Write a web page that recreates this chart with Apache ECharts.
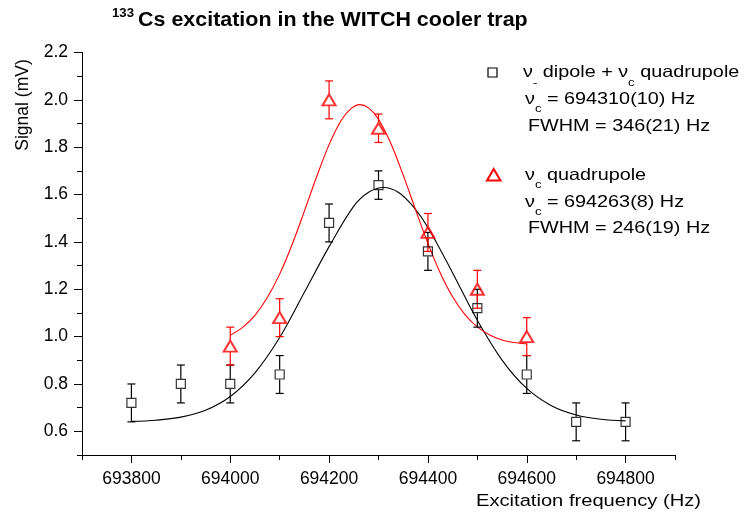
<!DOCTYPE html>
<html><head><meta charset="utf-8">
<script src="https://cdn.jsdelivr.net/npm/echarts@6/dist/echarts.min.js"></script>
<style>html,body{margin:0;padding:0;background:#fff}#c{width:744px;height:519px}</style>
</head><body><div id="c"></div>
<script>
// Measured data: nu- dipole + nu_c quadrupole (black squares)
const dipoleFreq   = [693800, 693900, 694000, 694100, 694200, 694300, 694400, 694500, 694600, 694700, 694800];
const dipoleSignal = [0.72, 0.80, 0.80, 0.84, 1.48, 1.64, 1.36, 1.12, 0.84, 0.64, 0.64];
const dipoleError  = [0.08, 0.08, 0.08, 0.08, 0.08, 0.06, 0.08, 0.08, 0.08, 0.08, 0.08];
// Measured data: nu_c quadrupole (red triangles)
const quadFreq   = [694000, 694100, 694200, 694300, 694400, 694500, 694600];
const quadSignal = [0.96, 1.08, 2.00, 1.88, 1.44, 1.20, 1.00];
const quadError  = [0.08, 0.08, 0.08, 0.06, 0.08, 0.08, 0.08];
// Fit curves
const dipoleFitFreq = [693800, 693850, 693900, 693950, 694000, 694050, 694100, 694150, 694200, 694250, 694280, 694310,
                       694340, 694370, 694400, 694450, 694500, 694550, 694600, 694650, 694700, 694750, 694800];
const dipoleFitSignal = [0.642, 0.647, 0.660, 0.689, 0.747, 0.847, 0.996, 1.187, 1.380, 1.551, 1.610, 1.630,
                         1.610, 1.550, 1.461, 1.269, 1.069, 0.901, 0.781, 0.708, 0.669, 0.651, 0.644];
const quadFitFreq = [694000, 694025, 694050, 694075, 694100, 694125, 694150, 694175, 694200, 694225, 694245, 694262, 694280,
                     694300, 694325, 694350, 694375, 694400, 694425, 694450, 694475, 694500, 694525, 694550, 694575, 694600];
const quadFitSignal = [1.006, 1.039, 1.090, 1.165, 1.264, 1.388, 1.530, 1.676, 1.811, 1.915, 1.964, 1.980, 1.966,
                       1.918, 1.816, 1.682, 1.536, 1.394, 1.269, 1.168, 1.093, 1.041, 1.007, 0.986, 0.975, 0.969];
// Ticks
const xMajorTicks = [693800, 694000, 694200, 694400, 694600, 694800];
const xMinorTicks = [693700, 693900, 694100, 694300, 694500, 694700, 694900];
const yMajorTicks = [0.6, 0.8, 1.0, 1.2, 1.4, 1.6, 1.8, 2.0, 2.2];
const yMinorTicks = [0.5, 0.7, 0.9, 1.1, 1.3, 1.5, 1.7, 1.9, 2.1];

const FONT = '"Liberation Sans", Arial, Helvetica, sans-serif';
const RED = '#ff0000';

function pairs(xs, ys) { return xs.map((x, i) => [x, ys[i]]); }

function errorBars(xs, ys, es, color, gap, z) {
  return {
    type: 'custom',
    z: z,
    data: xs.map((x, i) => [x, ys[i], es[i]]),
    encode: { x: 0, y: 1 },
    renderItem: function (params, api) {
      const x = api.value(0), y = api.value(1), e = api.value(2);
      const top = api.coord([x, y + e]);
      const mid = api.coord([x, y]);
      const bot = api.coord([x, y - e]);
      const cx = mid[0], cap = 4;
      const st = { stroke: color, lineWidth: 1.2 };
      return {
        type: 'group',
        children: [
          { type: 'line', shape: { x1: cx, y1: top[1], x2: cx, y2: mid[1] - gap }, style: st },
          { type: 'line', shape: { x1: cx, y1: mid[1] + gap, x2: cx, y2: bot[1] }, style: st },
          { type: 'line', shape: { x1: cx - cap, y1: top[1], x2: cx + cap, y2: top[1] }, style: st },
          { type: 'line', shape: { x1: cx - cap, y1: bot[1], x2: cx + cap, y2: bot[1] }, style: st }
        ]
      };
    }
  };
}

const tickLabel = { color: '#000', fontSize: 17.5, fontFamily: FONT };

const chart = echarts.init(document.getElementById('c'), null, { renderer: 'canvas' });
const legendRich = {
  s: { fontSize: 11, fontFamily: FONT, padding: [20, 0, 0, 0] }
};
function txt(x, y, text) {
  return {
    type: 'text', x: x, y: y, scaleX: 1.2, z: 100,
    style: { text: text, fill: '#000', fontSize: 16.5, fontFamily: FONT, align: 'left', verticalAlign: 'middle', rich: legendRich }
  };
}

chart.setOption({
  animation: false,
  backgroundColor: '#fff',
  grid: { left: 82, right: 69, top: 52.5, bottom: 64, containLabel: false, outerBoundsMode: 'none' },
  xAxis: [
    {
      type: 'value', min: 693700, max: 694900, position: 'bottom',
      axisLine: { show: true, lineStyle: { color: '#000', width: 1 } },
      axisTick: { show: true, customValues: xMajorTicks, length: 8, inside: false, lineStyle: { color: '#000', width: 1 } },
      axisLabel: { show: true, customValues: xMajorTicks, margin: 15, formatter: v => String(v), ...tickLabel },
      splitLine: { show: false }
    },
    {
      type: 'value', min: 693700, max: 694900, position: 'bottom',
      axisLine: { show: false },
      axisTick: { show: true, customValues: xMinorTicks, length: 5, inside: false, lineStyle: { color: '#000', width: 1 } },
      axisLabel: { show: false },
      splitLine: { show: false }
    }
  ],
  yAxis: [
    {
      type: 'value', min: 0.5, max: 2.2, position: 'left',
      axisLine: { show: true, lineStyle: { color: '#000', width: 1 } },
      axisTick: { show: true, customValues: yMajorTicks, length: 8, inside: false, lineStyle: { color: '#000', width: 1 } },
      axisLabel: { show: true, customValues: yMajorTicks, margin: 14, formatter: v => v.toFixed(1), ...tickLabel },
      splitLine: { show: false }
    },
    {
      type: 'value', min: 0.5, max: 2.2, position: 'left',
      axisLine: { show: false },
      axisTick: { show: true, customValues: yMinorTicks, length: 5, inside: false, lineStyle: { color: '#000', width: 1 } },
      axisLabel: { show: false },
      splitLine: { show: false }
    }
  ],
  series: [
    {
      type: 'line', data: pairs(dipoleFitFreq, dipoleFitSignal), smooth: 0.35, showSymbol: false, symbol: 'none',
      lineStyle: { color: '#000', width: 1.1 }, z: 2
    },
    {
      type: 'line', data: pairs(quadFitFreq, quadFitSignal), smooth: 0.35, showSymbol: false, symbol: 'none',
      lineStyle: { color: RED, width: 1.1 }, z: 2
    },
    errorBars(dipoleFreq, dipoleSignal, dipoleError, '#000', 5, 3),
    errorBars(quadFreq, quadSignal, quadError, RED, 6, 4),
    {
      type: 'scatter', data: pairs(dipoleFreq, dipoleSignal), symbol: 'rect', symbolSize: 9,
      itemStyle: { color: 'rgba(255,255,255,0)', borderColor: '#000', borderWidth: 1.2 }, z: 5
    },
    {
      type: 'scatter', data: pairs(quadFreq, quadSignal), symbol: 'triangle', symbolSize: [13, 11],
      itemStyle: { color: 'rgba(255,255,255,0)', borderColor: RED, borderWidth: 2 }, z: 6
    }
  ],
  graphic: [
    // title
    { type: 'text', x: 112, y: 14, scaleX: 1.1, style: { text: '133', fill: '#000', fontSize: 12, fontWeight: 'bold', fontFamily: FONT, align: 'left', verticalAlign: 'middle' } },
    { type: 'text', x: 138, y: 21, scaleX: 1.1, style: { text: 'Cs excitation in the WITCH cooler trap', fill: '#000', fontSize: 19.5, fontWeight: 'bold', fontFamily: FONT, align: 'left', verticalAlign: 'middle' } },
    // axis names
    { type: 'text', x: 23, y: 105, rotation: Math.PI / 2, style: { text: 'Signal (mV)', fill: '#000', fontSize: 17.5, fontFamily: FONT, align: 'center', verticalAlign: 'middle' } },
    { type: 'text', x: 476, y: 501, scaleX: 1.2, style: { text: 'Excitation frequency (Hz)', fill: '#000', fontSize: 16.8, fontFamily: FONT, align: 'left', verticalAlign: 'middle' } },
    // legend symbols
    { type: 'rect', shape: { x: 488, y: 68, width: 9, height: 9 }, style: { fill: 'none', stroke: '#000', lineWidth: 1.2 } },
    { type: 'polygon', shape: { points: [[487, 180.5], [500.5, 180.5], [493.7, 169]] }, style: { fill: 'none', stroke: RED, lineWidth: 2 } },
    // legend texts
    txt(523, 72.7, 'ν{s|-} dipole + ν{s|c} quadrupole'),
    txt(525, 99.3, 'ν{s|c} = 694310(10) Hz'),
    txt(528, 126, 'FWHM = 346(21) Hz'),
    txt(525, 175, 'ν{s|c} quadrupole'),
    txt(525, 202.3, 'ν{s|c} = 694263(8) Hz'),
    txt(528, 228.3, 'FWHM = 246(19) Hz')
  ]
});
</script>
</body></html>
